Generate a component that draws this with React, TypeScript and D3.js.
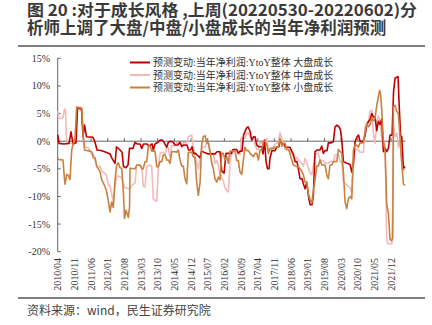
import React from "react";
import * as d3 from "d3";

// ---- data ----
const titleLines = ["图 20 :对于成长风格 ,上周(20220530-20220602)分", "析师上调了大盘/中盘/小盘成长的当年净利润预测"];
const sourceText = "资料来源：wind，民生证券研究院";
const xTickLabels = ["2010/04","2010/11","2011/06","2012/01","2012/08","2013/03","2013/10","2014/05","2014/12","2015/07","2016/02","2016/09","2017/04","2017/11","2018/06","2019/01","2019/08","2020/03","2020/10","2021/05","2021/12"];
const yTicks = [15, 10, 5, 0, -5, -10, -15, -20];
const seriesNames = ["预测变动:当年净利润:YtoY整体 大盘成长", "预测变动:当年净利润:YtoY整体 中盘成长", "预测变动:当年净利润:YtoY整体 小盘成长"];
// [months since 2010/04, value %]
const largeCap: [number, number][] = [[0,1.2],[0.55,-0.4],[2.65,-0.5],[4.75,-0.4],[5.59,1.7],[6.43,-0.5],[7.69,-0.3],[8.32,6.0],[10.0,5.8],[10.63,0.8],[11.27,2.9],[12.1,0.8],[14.83,0.7],[15.67,-0.2],[16.51,-1.6],[18.19,-1.7],[20.29,-2.0],[21.97,-2.3],[22.81,-3.1],[24.07,-4.0],[24.7,-1.0],[26.17,-1.6],[27.01,-2.0],[27.64,-4.6],[28.69,-4.8],[29.53,-4.3],[30.16,-1.3],[31.63,-1.3],[32.47,-0.2],[33.31,-0.5],[34.57,-0.5],[35.28,-1.3],[36.04,-0.5],[37.51,-0.5],[38.35,-0.9],[39.61,-0.5],[40.15,-1.6],[40.87,-0.5],[42.13,-0.2],[42.97,0.2],[43.81,0.2],[44.65,-0.2],[45.78,-1.1],[46.45,-0.2],[47.37,0.0],[48.55,-0.2],[49.27,-0.7],[50.53,-0.7],[51.37,-0.2],[52.08,-0.9],[53.05,-0.7],[54.31,-0.7],[54.94,-1.6],[55.77,-1.6],[56.41,-1.0],[57.03,-2.2],[57.87,-2.2],[58.51,-2.5],[59.77,-3.0],[60.39,-1.8],[61.44,-2.0],[63.12,-2.3],[66.06,-2.3],[66.91,-1.9],[68.16,-1.9],[68.88,-5.4],[69.85,-5.8],[70.69,-2.2],[73.0,-2.2],[73.62,-1.5],[75.09,-1.5],[75.85,-2.2],[76.56,-1.8],[77.4,-1.8],[78.03,1.1],[79.29,2.4],[79.92,2.6],[80.76,1.8],[81.48,0.2],[82.23,0.8],[82.86,0.8],[83.58,-0.7],[84.33,-1.0],[85.59,-1.0],[86.22,-2.3],[86.85,0.2],[87.48,-3.7],[88.11,-5.0],[88.74,-5.0],[89.16,-3.0],[90.0,-1.7],[91.26,-1.7],[92.1,-1.0],[92.94,-1.0],[93.36,0.2],[94.2,-0.5],[95.04,-0.5],[95.67,-1.1],[97.56,-1.1],[98.28,-1.8],[98.95,-2.3],[99.66,-3.7],[100.5,-3.7],[101.13,-5.2],[101.76,-6.8],[102.6,-6.8],[103.15,-7.7],[103.86,-8.6],[104.58,-7.5],[105.25,-9.8],[105.96,-11.5],[106.8,-11.5],[107.35,-9.8],[108.06,-1.9],[108.9,-1.6],[110.16,-1.6],[110.88,-0.9],[111.55,-2.2],[112.26,-1.7],[113.1,-1.7],[113.65,-0.3],[114.78,-0.3],[115.75,-0.1],[116.46,2.6],[117.3,2.9],[118.14,2.6],[118.77,2.0],[119.28,0.2],[119.95,-3.7],[121.5,-4.0],[122.76,-4.2],[123.48,-5.6],[124.15,-4.0],[124.86,-0.1],[125.7,0.8],[126.33,1.1],[126.96,0.0],[128.22,0.0],[129.06,1.0],[129.78,2.9],[130.53,3.6],[131.16,3.9],[131.88,5.0],[132.55,4.4],[133.26,4.3],[133.98,1.9],[134.65,3.6],[135.36,3.0],[136.08,4.0],[136.75,-1.9],[137.46,-1.3],[138.18,-1.9],[138.85,-1.3],[139.56,1.1],[140.4,1.1],[141.03,9.0],[141.66,11.4],[142.92,11.7],[143.34,7.0],[143.97,1.0],[144.48,0.8],[145.15,-4.9],[145.86,-4.6]];
const midCap: [number, number][] = [[0,5.5],[0.34,4.2],[1.39,4.1],[2.23,4.3],[2.86,5.8],[3.28,5.6],[3.7,0.5],[4.33,-0.3],[6.01,-0.4],[6.85,-0.5],[7.48,1.0],[7.98,6.0],[9.37,6.2],[10.08,5.7],[10.75,0.5],[11.27,-1.0],[12.85,-1.2],[13.57,-1.8],[14.28,-2.0],[14.95,-2.3],[15.67,-3.2],[16.38,-4.6],[17.05,-4.8],[17.77,-4.5],[18.61,-5.5],[19.87,-5.8],[20.58,-6.3],[21.25,-8.0],[21.97,-8.0],[22.68,-9.6],[23.35,-10.8],[24.07,-8.2],[24.78,-6.5],[25.45,-6.3],[26.88,-6.6],[27.55,-7.6],[28.27,-8.4],[29.53,-8.6],[30.37,-8.6],[31.08,-8.0],[32.47,-7.6],[33.18,-4.3],[35.28,-4.5],[35.95,-8.2],[36.66,-8.3],[37.38,-4.6],[38.76,-4.3],[39.48,-4.6],[40.15,-10.5],[41.58,-10.9],[42.25,-4.8],[42.97,-2.2],[44.35,-2.0],[45.07,-2.3],[45.78,-1.2],[46.45,-1.2],[47.16,-3.1],[47.88,-0.8],[49.27,-0.8],[49.98,-0.3],[51.37,-0.3],[52.08,-1.2],[52.75,-0.3],[54.18,-0.3],[54.85,0.8],[56.28,1.1],[56.95,-1.0],[57.66,-3.0],[58.38,-4.0],[59.05,-5.0],[59.77,-3.2],[60.48,-1.1],[61.87,-1.1],[62.58,-0.3],[63.25,-0.3],[63.96,-2.2],[65.35,-2.2],[66.06,-4.0],[66.78,-3.5],[67.45,-4.5],[68.16,-6.0],[69.55,-7.2],[70.26,-8.5],[71.65,-9.2],[72.37,-4.0],[73.08,-1.8],[74.46,-1.5],[75.18,-1.5],[76.56,-2.5],[77.28,0.6],[78.66,0.6],[79.38,1.5],[80.05,1.5],[80.76,0.8],[82.15,0.3],[82.86,-0.7],[83.58,-1.5],[84.25,-1.5],[84.96,-0.3],[87.06,-0.3],[87.78,0.5],[88.45,-1.5],[89.16,-1.7],[90.55,-1.1],[91.26,-0.5],[92.65,-0.3],[93.36,1.6],[94.08,0.5],[94.75,-0.4],[95.46,-1.5],[97.56,-1.5],[98.28,-2.2],[99.66,-3.4],[100.38,-3.0],[102.48,-4.0],[103.15,-4.5],[103.86,-3.1],[104.58,-4.0],[105.96,-5.7],[106.68,-6.1],[107.35,-4.5],[108.06,-2.2],[109.45,-2.2],[110.16,-3.5],[111.55,-3.5],[112.26,-4.0],[113.65,-4.0],[114.36,-3.7],[115.75,-3.7],[116.46,-2.5],[117.85,-2.4],[118.56,-3.7],[119.28,-3.7],[119.95,-7.3],[120.66,-7.6],[122.76,-8.4],[123.48,-9.5],[124.15,-4.5],[124.86,-1.5],[126.25,-1.5],[126.96,-2.0],[128.35,-2.0],[129.06,2.6],[130.45,3.6],[131.16,5.4],[131.88,5.6],[132.55,1.4],[133.26,-0.4],[133.98,3.6],[134.65,4.5],[135.36,3.6],[136.08,0.5],[136.75,-0.4],[137.46,-0.4],[138.18,-18.0],[138.85,-18.6],[140.28,-18.6],[140.7,-11.0],[141.03,3.0],[141.66,0.8],[142.5,1.5],[143.05,-1.1],[143.76,0.0],[144.48,-4.0],[145.15,-5.3],[145.86,-5.0]];
const smallCap: [number, number][] = [[0,-3.0],[0.34,-3.3],[2.23,-3.4],[2.77,-6.5],[3.07,-7.8],[3.78,-6.0],[4.45,-6.2],[5.17,-6.9],[5.88,-1.6],[6.55,-0.4],[7.27,0.5],[7.98,6.2],[9.37,6.0],[10.08,6.0],[10.75,0.8],[11.27,-1.6],[12.18,-1.7],[13.57,-1.8],[14.28,-2.0],[14.95,-3.0],[15.67,-3.0],[16.38,-4.5],[17.77,-5.5],[18.48,-7.0],[19.87,-8.2],[20.58,-9.2],[21.25,-10.8],[21.97,-12.8],[22.68,-11.0],[23.35,-12.0],[24.07,-7.0],[24.78,-4.3],[25.45,-3.9],[26.17,-4.8],[26.88,-4.9],[27.55,-9.1],[28.06,-14.0],[28.69,-12.5],[29.66,-13.8],[30.16,-12.0],[30.37,-4.9],[32.47,-5.0],[33.18,-4.3],[34.57,-4.3],[35.28,-5.0],[35.95,-5.0],[36.66,-3.7],[37.38,-3.7],[38.05,-1.0],[38.76,-0.8],[39.48,-1.8],[40.87,-1.8],[41.58,-4.6],[42.25,-4.6],[42.97,-3.7],[43.68,-3.7],[44.35,-2.5],[45.07,-2.5],[45.78,-3.4],[46.45,-3.4],[47.16,-4.0],[47.88,-1.9],[49.27,-1.9],[49.98,-2.0],[50.65,-1.6],[51.37,-3.4],[52.08,-4.5],[52.75,-4.5],[53.47,-6.8],[54.18,-7.7],[54.85,-2.0],[56.28,-2.0],[56.95,-2.8],[57.66,-3.0],[58.38,-7.5],[59.05,-9.8],[59.77,-7.5],[60.48,-0.5],[61.15,0.8],[61.87,1.0],[62.58,-0.3],[63.25,-0.3],[63.96,-1.8],[64.68,-4.0],[65.35,-5.0],[66.06,-6.8],[66.78,-7.4],[67.45,-6.5],[68.16,-7.0],[68.88,-2.2],[69.55,-2.2],[70.26,-3.4],[70.98,-2.8],[71.65,-4.0],[72.37,-1.8],[74.46,-1.8],[75.18,-3.5],[75.85,-3.5],[76.56,-5.6],[77.28,-6.0],[77.95,-3.5],[78.66,-1.1],[79.38,-1.7],[80.05,-1.7],[80.76,-2.2],[82.15,-2.8],[82.86,-2.2],[83.58,-2.2],[84.25,-3.4],[84.96,-1.6],[85.68,-1.6],[86.35,0.0],[87.06,0.0],[87.78,-0.5],[88.45,-2.2],[89.16,-1.3],[90.55,-1.3],[91.26,-1.1],[92.65,-1.1],[93.36,0.5],[94.08,-0.9],[94.75,-0.4],[95.46,-0.4],[96.18,-1.5],[96.85,-1.5],[97.56,-2.2],[98.28,-3.4],[98.95,-4.3],[100.38,-4.6],[101.05,-4.6],[102.48,-5.4],[103.15,-6.1],[103.86,-7.4],[104.58,-7.4],[105.25,-9.5],[105.96,-10.5],[106.68,-11.2],[107.35,-9.0],[108.06,-7.0],[108.78,-4.5],[109.45,-4.5],[110.16,-3.4],[110.88,-4.3],[112.26,-4.3],[112.98,-6.1],[113.65,-6.8],[114.36,-4.3],[115.08,-4.3],[115.75,-3.7],[117.18,-3.7],[117.85,-1.5],[119.28,-2.2],[119.95,-5.4],[120.66,-11.0],[121.38,-12.2],[122.05,-10.4],[122.76,-10.0],[123.48,-10.4],[124.15,-1.7],[124.86,-0.7],[125.58,-0.7],[126.25,-1.1],[126.96,-0.3],[128.35,-0.3],[129.06,1.6],[129.78,3.2],[130.45,2.6],[131.16,3.0],[131.88,4.2],[132.55,3.7],[133.26,4.2],[133.98,6.5],[134.65,8.0],[135.16,9.2],[135.57,8.5],[136.08,5.6],[136.75,0.0],[137.46,-1.7],[138.18,-11.5],[138.85,-13.0],[139.56,-17.8],[140.28,-18.0],[140.7,-17.5],[140.95,6.2],[141.66,6.5],[142.38,5.4],[143.05,5.0],[143.76,0.5],[144.48,-4.0],[145.15,-7.7],[145.86,-8.0]];

const seriesData = [largeCap, midCap, smallCap];
const colors = ["#C00000", "#F4B9B9", "#C8813F"];

export default function App() {
  const W = 432, H = 325;
  const x = d3.scaleLinear().domain([0, 146]).range([57.7, 405.4]);
  const y = d3.scaleLinear().domain([-20, 15]).range([251.7, 58.3]);
  const line = d3.line<[number, number]>().x(d => x(d[0])).y(d => y(d[1]));
  const serif = "'Liberation Serif', 'Times New Roman', 'Noto Sans CJK SC', serif";
  const cjk = "'Noto Sans CJK SC', sans-serif";
  const drawOrder = [1, 0, 2];
  return (
    <svg width={W} height={H} style={{ position: "absolute", left: 0, top: 0, background: "#fff" }}>
      <text x={27} y={16} fontFamily={cjk} fontWeight="bold" fontSize={16} fill="#3a3a3a" textLength={390} lengthAdjust="spacingAndGlyphs">{titleLines[0]}</text>
      <text x={27} y={34} fontFamily={cjk} fontWeight="bold" fontSize={16.5} fill="#3a3a3a">{titleLines[1]}</text>
      <line x1={18} x2={425} y1={46} y2={46} stroke="#555" strokeWidth={1.5} />

      {/* y axis */}
      <line x1={x(0)} x2={x(0)} y1={y(15)} y2={y(-20)} stroke="#666" strokeWidth={1} />
      {yTicks.map(t => (
        <g key={t}>
          <line x1={x(0)} x2={x(0) + 3} y1={y(t)} y2={y(t)} stroke="#666" />
          <text x={50} y={y(t) + 3.5} textAnchor="end" fontFamily={serif} fontSize={10} fill="#333">{t}%</text>
        </g>
      ))}
      {/* zero line with ticks */}
      <line x1={x(0)} x2={x(146)} y1={y(0)} y2={y(0)} stroke="#666" strokeWidth={1} />
      {xTickLabels.map((lab, i) => (
        <g key={lab}>
          <line x1={x(i * 7)} x2={x(i * 7)} y1={y(0)} y2={y(0) - 3} stroke="#666" />
          <text transform={`translate(${x(i * 7) + 3.5},258) rotate(-90)`} textAnchor="end" fontFamily={serif} fontSize={10} fill="#333">{lab}</text>
        </g>
      ))}

      {drawOrder.map(k => (
        <path key={k} d={line(seriesData[k]) || ""} fill="none" stroke={colors[k]} strokeWidth={1.6} strokeLinejoin="round" />
      ))}

      {/* legend */}
      {seriesNames.map((n, i) => (
        <g key={n}>
          <line x1={130} x2={150} y1={62.5 + i * 12.5} y2={62.5 + i * 12.5} stroke={colors[i]} strokeWidth={2} />
          <text x={153} y={66 + i * 12.5} fontFamily={serif} fontSize={10} fill="#333">{n}</text>
        </g>
      ))}

      <line x1={18} x2={425} y1={298} y2={298} stroke="#555" strokeWidth={1.5} />
      <text x={27} y={315} fontFamily={cjk} fontSize={12} fill="#444">{sourceText}</text>
    </svg>
  );
}
